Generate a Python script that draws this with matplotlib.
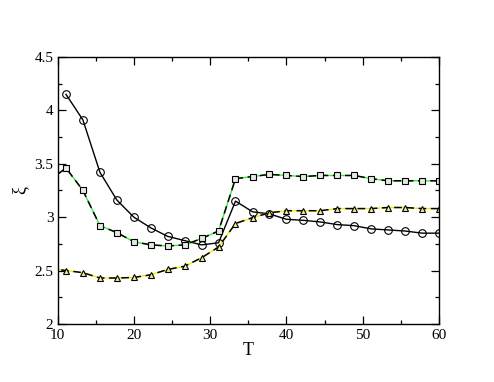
import numpy as np
import matplotlib.pyplot as plt

plt.rcParams['font.family'] = ['Liberation Serif', 'DejaVu Serif']

# temperature grid (first point lies just left of the axis and gets clipped)
T_all = np.array([8.89, 11.11, 13.33, 15.56, 17.78, 20.0, 22.22, 24.44, 26.67, 28.89,
                  31.11, 33.33, 35.56, 37.78, 40.0, 42.22, 44.44, 46.67, 48.89, 51.11,
                  53.33, 55.56, 57.78, 60.0])
T_circ = T_all[1:]

xi_circ = [4.15, 3.91, 3.42, 3.16, 3.00, 2.90, 2.82, 2.78, 2.74, 2.76,
           3.15, 3.05, 3.03, 2.98, 2.97, 2.955, 2.93, 2.92, 2.89, 2.88,
           2.87, 2.85, 2.85]
xi_sq = [3.34, 3.46, 3.25, 2.92, 2.855, 2.77, 2.74, 2.73, 2.74, 2.80,
         2.87, 3.36, 3.38, 3.40, 3.39, 3.38, 3.39, 3.39, 3.39, 3.36,
         3.34, 3.34, 3.34, 3.34]
xi_tri = [2.52, 2.50, 2.48, 2.43, 2.43, 2.435, 2.46, 2.51, 2.54, 2.62,
          2.72, 2.94, 2.995, 3.04, 3.06, 3.06, 3.06, 3.08, 3.08, 3.08,
          3.09, 3.09, 3.08, 3.08]

fig = plt.figure(figsize=(4.94, 3.82), dpi=100)
ax = fig.add_axes([0.1164, 0.152, 0.7722, 0.699])

# circles: plain black line
ax.plot(T_circ, xi_circ, color='black', lw=1.0, marker='o', ms=5.5,
        mfc='none', mec='black', mew=0.8)

# squares: green solid line under black dashes
ax.plot(T_all, xi_sq, color='#33ee33', lw=1.0)
ax.plot(T_all, xi_sq, color='black', lw=1.1, dashes=(5, 3), marker='s', ms=4.5,
        mfc='#e4eae2', mec='black', mew=0.8)

# triangles: yellow solid line under black dashes
ax.plot(T_all, xi_tri, color='#eeee00', lw=1.0)
ax.plot(T_all, xi_tri, color='black', lw=1.1, dashes=(5, 3), marker='^', ms=5,
        mfc='#f0ec9c', mec='black', mew=0.8)

ax.set_xlim(10, 60)
ax.set_ylim(2, 4.5)
ax.set_xticks([10, 20, 30, 40, 50, 60])
ax.set_xticks([15, 25, 35, 45, 55], minor=True)
ax.set_yticks([2, 2.5, 3, 3.5, 4, 4.5])
ax.set_yticklabels(['2', '2.5', '3', '3.5', '4', '4.5'])
ax.set_yticks([2.25, 2.75, 3.25, 3.75, 4.25], minor=True)
ax.tick_params(which='both', direction='in', top=True, right=True, labelsize=11)
ax.tick_params(axis='x', pad=4)
ax.tick_params(axis='y', pad=3)
ax.tick_params(which='major', length=6, width=0.9)
ax.tick_params(which='minor', length=3, width=0.9)
for s in ax.spines.values():
    s.set_linewidth(1.0)

ax.set_xlabel('T', fontsize=13, labelpad=0)
ax.set_ylabel('ξ', fontsize=13, labelpad=4)

fig.savefig('out.png', dpi=100)
